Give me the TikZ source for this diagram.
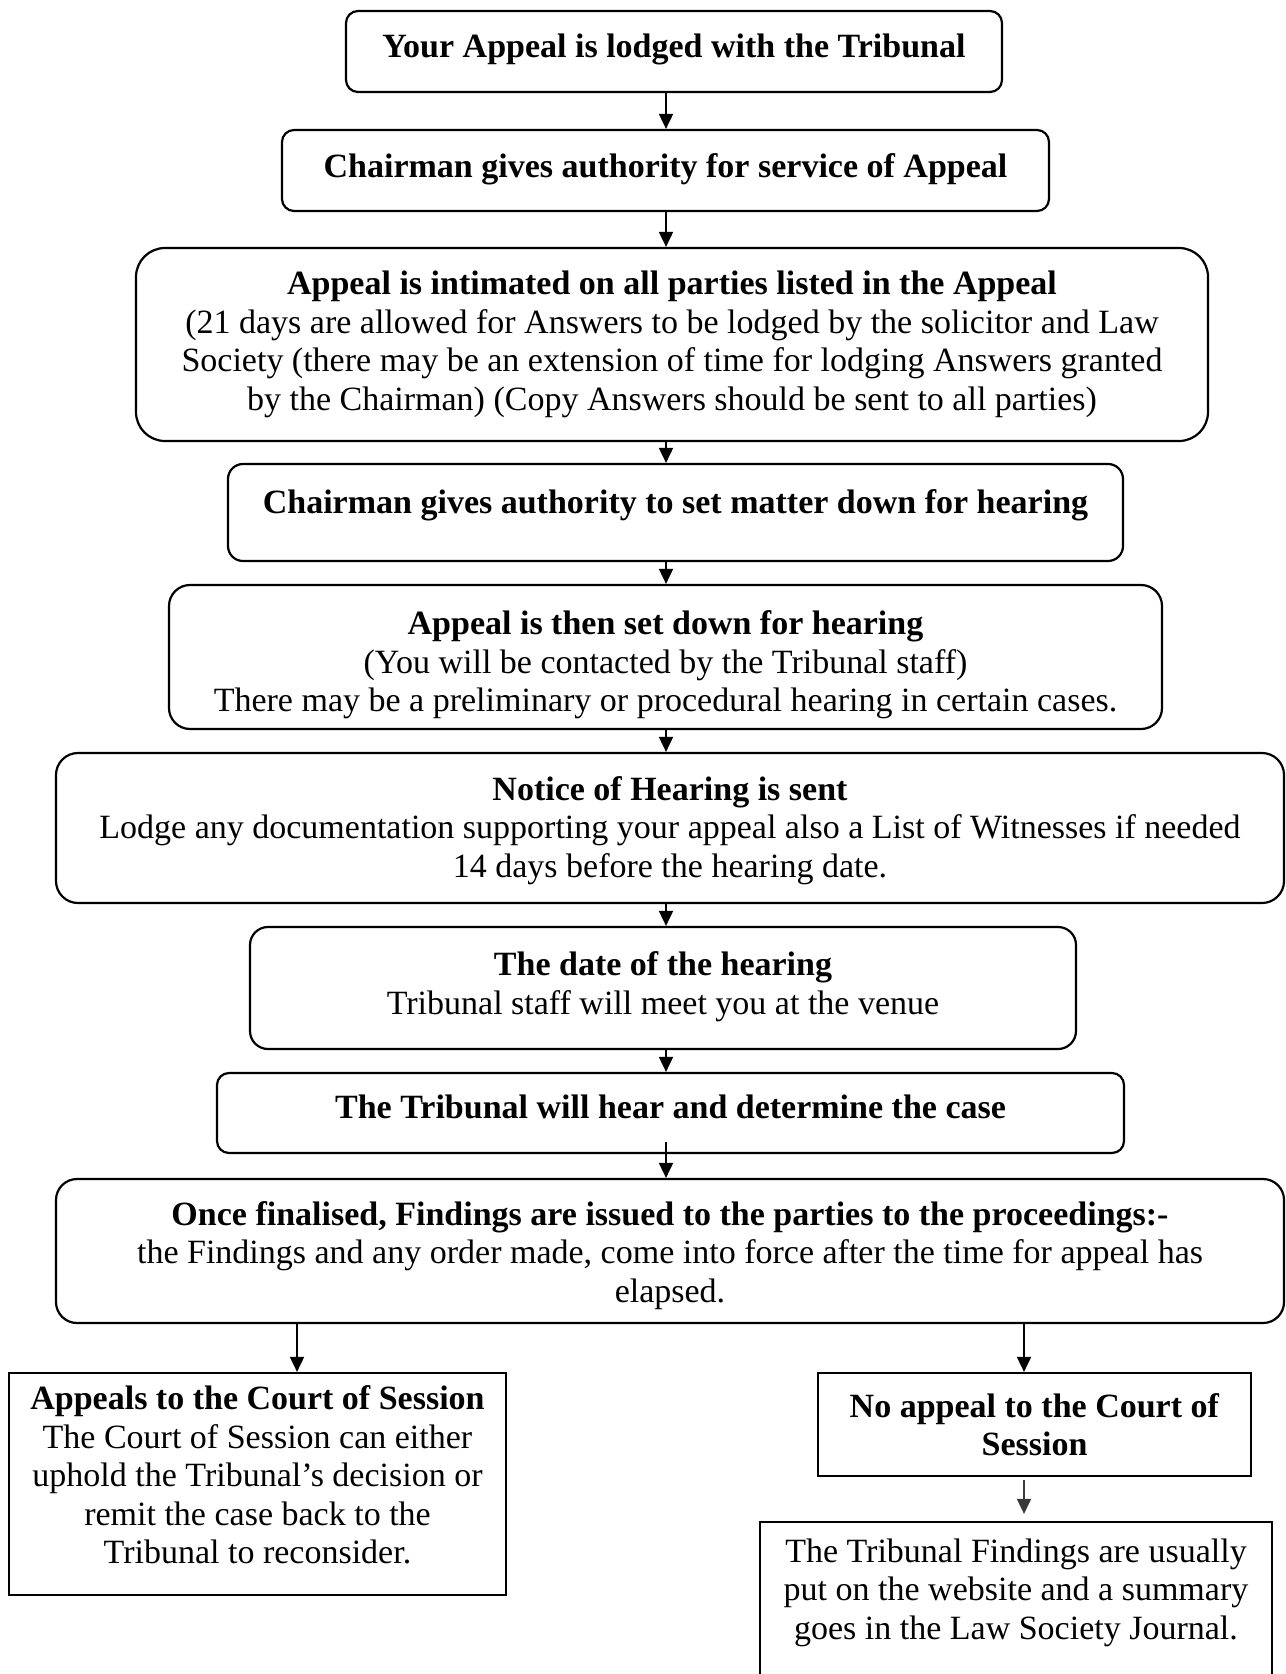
\documentclass[tikz,border=0pt]{standalone}
\usepackage{fontspec}
\setmainfont{Liberation Serif}
\usetikzlibrary{arrows.meta,calc}

\newcommand{\padtop}[1]{\rule{0pt}{#1}}
\newcommand{\padbot}[1]{\rule[-#1]{0pt}{#1}}

\tikzset{
  stage/.style={draw, line width=1.1pt, inner sep=0pt, align=center,
    font=\fontsize{17}{19.25}\selectfont},
  outcome/.style={stage, rounded corners=0pt},
  flow/.style={-{Triangle[length=7.5pt,width=7pt]}, line width=0.9pt},
}

\begin{document}
\begin{tikzpicture}[x=0.5pt, y=-0.5pt]
  \useasboundingbox (0,0) rectangle (1285,1674);
  \coordinate (spine) at (666,0);
  \coordinate (lbr) at (297,0);
  \coordinate (rbr) at (1024,0);

  % Main sequence
  \node[stage, rounded corners=6pt, minimum width=328pt, minimum height=40.5pt,
    text height=12pt, text depth=6.3pt] (lodged) at (674,51.5)
    {\textbf{Your Appeal is lodged with the Tribunal}};
  \node[stage, rounded corners=6pt, minimum width=383.5pt, minimum height=40.5pt,
    text height=12pt, text depth=5.4pt] (service) at (665.5,170.5)
    {\textbf{Chairman gives authority for service of Appeal}};
  \node[stage, rounded corners=14.5pt, minimum width=536pt, minimum height=96.5pt]
    (intimated) at (672,344.5)
    {\textbf{Appeal is intimated on all parties listed in the Appeal}\\
     (21 days are allowed for Answers to be lodged by the solicitor and Law\\
     Society (there may be an extension of time for lodging Answers granted\\
     by the Chairman) (Copy Answers should be sent to all parties)};
  \node[stage, rounded corners=7.5pt, minimum width=447.5pt, minimum height=48.5pt,
    text height=12pt, text depth=11.3pt] (setdown) at (675.5,512.5)
    {\textbf{Chairman gives authority to set matter down for hearing}};
  \node[stage, rounded corners=10.5pt, minimum width=496.5pt, minimum height=72pt]
    (listed) at (665.5,657)
    {\padtop{20pt}\textbf{Appeal is then set down for hearing}\\
     (You will be contacted by the Tribunal staff)\\
     There may be a preliminary or procedural hearing in certain cases.};
  \node[stage, rounded corners=11pt, minimum width=614pt, minimum height=75pt]
    (notice) at (670,828)
    {\padtop{14.3pt}\textbf{Notice of Hearing is sent}\\
     Lodge any documentation supporting your appeal also a List of Witnesses if needed\\
     14 days before the hearing date.};
  \node[stage, rounded corners=9pt, minimum width=413pt, minimum height=61pt]
    (date) at (663,988)
    {\textbf{The date of the hearing}\\
     Tribunal staff will meet you at the venue\padbot{5pt}};
  \node[stage, rounded corners=6pt, minimum width=453.5pt, minimum height=40pt,
    text height=12pt, text depth=7pt] (hear) at (670.5,1113)
    {\textbf{The Tribunal will hear and determine the case}};
  \node[stage, rounded corners=10.5pt, minimum width=614pt, minimum height=72pt]
    (findings) at (670,1251)
    {\padtop{16.3pt}\textbf{Once finalised, Findings are issued to the parties to the proceedings:-}\\
     the Findings and any order made, come into force after the time for appeal has\\
     elapsed.};

  % Outcomes
  \node[outcome, minimum width=248.5pt, minimum height=111pt] (court) at (257.5,1484)
    {\textbf{Appeals to the Court of Session}\\
     The Court of Session can either\\
     uphold the Tribunal’s decision or\\
     remit the case back to the\\
     Tribunal to reconsider.\padbot{9pt}};
  \node[outcome, minimum width=216.5pt, minimum height=51.5pt] (noappeal) at (1034.5,1424.5)
    {\textbf{No appeal to the Court of}\\ \textbf{Session}};
  \node[outcome, minimum width=256pt, minimum height=89pt] (published) at (1016,1611)
    {The Tribunal Findings are usually\\
     put on the website and a summary\\
     goes in the Law Society Journal.\padbot{22pt}};

  % Arrows
  \draw[flow] (spine |- lodged.south) -- (spine |- service.north);
  \draw[flow] (spine |- service.south) -- (spine |- intimated.north);
  \draw[flow] (spine |- intimated.south) -- (spine |- setdown.north);
  \draw[flow] (spine |- setdown.south) -- (spine |- listed.north);
  \draw[flow] (spine |- listed.south) -- (spine |- notice.north);
  \draw[flow] (spine |- notice.south) -- (spine |- date.north);
  \draw[flow] (spine |- date.south) -- (spine |- hear.north);
  \draw[flow] ([yshift=6pt]spine |- hear.south) -- (spine |- findings.north);
  \draw[flow] (lbr |- findings.south) -- (lbr |- court.north);
  \draw[flow] (rbr |- findings.south) -- (rbr |- noappeal.north);
  \draw[flow, gray!45!black] ([yshift=-1.5pt]rbr |- noappeal.south)
    -- ([yshift=3.5pt]rbr |- published.north);

\end{tikzpicture}
\end{document}
